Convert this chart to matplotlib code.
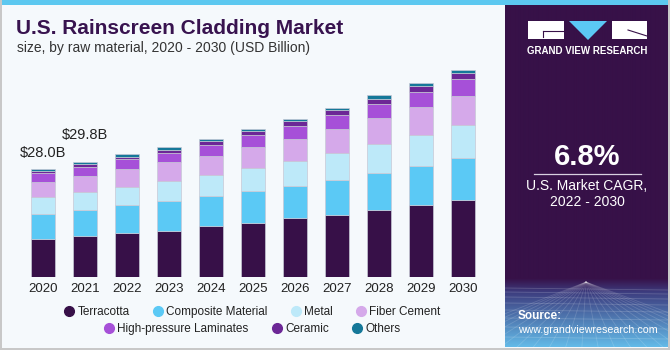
import numpy as np
import matplotlib
matplotlib.use('Agg')
import matplotlib.pyplot as plt
from matplotlib.lines import Line2D
from matplotlib.patches import Rectangle, Polygon

plt.rcParams['font.family'] = ['Liberation Sans', 'DejaVu Sans']

# data (USD Billion)
years = ['2020', '2021', '2022', '2023', '2024', '2025', '2026', '2027', '2028', '2029', '2030']
segments = ['Terracotta', 'Composite Material', 'Metal', 'Fiber Cement',
            'High-pressure Laminates', 'Ceramic', 'Others']
terracotta = [9.95, 10.65, 11.35, 12.0, 13.25, 14.0, 15.25, 16.0, 17.5, 18.7, 20.0]
composite = [6.4, 6.75, 7.35, 7.8, 7.9, 8.3, 8.4, 9.2, 9.45, 10.1, 10.8]
metal = [4.3, 4.6, 4.75, 5.1, 5.3, 5.9, 6.5, 7.0, 7.5, 8.0, 8.65]
fiber_cement = [4.0, 4.24, 4.6, 4.85, 5.1, 5.5, 5.8, 6.3, 6.75, 7.3, 7.6]
hpl = [2.25, 2.42, 2.5, 2.5, 2.8, 3.1, 3.4, 3.55, 3.8, 4.0, 4.35]
ceramic = [0.55, 0.6, 0.7, 0.75, 0.95, 1.1, 1.2, 1.3, 1.3, 1.5, 1.55]
others = [0.55, 0.54, 0.6, 0.75, 0.65, 0.65, 0.6, 0.6, 0.85, 0.7, 0.8]
series = [terracotta, composite, metal, fiber_cement, hpl, ceramic, others]
colors = ['#371048', '#5bc9f5', '#bde9f9', '#d5a9ea', '#a650d8', '#6c2796', '#157899']
value_labels = {0: '$28.0B', 1: '$29.8B'}
label_heights = {0: 32.2, 1: 36.9}

bg = '#f5f9fc'
purple = '#371148'

fig = plt.figure(figsize=(6.7, 3.5), dpi=100, facecolor=bg)

# frame / decorations in pixel coordinates
deco = fig.add_axes([0, 0, 1, 1], zorder=0)
deco.set_xlim(0, 670)
deco.set_ylim(350, 0)
deco.axis('off')
deco.add_patch(Rectangle((0, 0), 670, 5, color='#5cc8f0', lw=0))
deco.add_patch(Rectangle((0, 0), 1.5, 350, color='#c8c8c8', lw=0))
deco.add_patch(Rectangle((0, 347.5), 670, 2.5, color='#c8c8c8', lw=0))
deco.add_patch(Rectangle((667.5, 0), 2.5, 350, color='#c8c8c8', lw=0))

fig.text(16 / 670, 1 - 28.5 / 350, 'U.S. Rainscreen Cladding Market', fontsize=15,
         fontweight='heavy', color='#38134f', va='center', ha='left')
fig.text(17 / 670, 1 - 48 / 350, 'size, by raw material, 2020 - 2030 (USD Billion)',
         fontsize=10, color='#333333', va='center', ha='left')

# main chart
ax = fig.add_axes([10 / 670, 73 / 350, 485 / 670, 217 / 350], zorder=2)
ax.set_facecolor('none')
x = np.arange(len(years))
bottom = np.zeros(len(years))
for name, vals, c in zip(segments, series, colors):
    ax.bar(x, vals, width=0.58, bottom=bottom, color=c, edgecolor='#c7c9d6',
           linewidth=0.5, label=name)
    bottom += np.array(vals)
for i, txt in value_labels.items():
    ax.text(x[i], label_heights[i], txt, ha='center', va='center', fontsize=10.5,
            color='#222222')
ax.set_xlim(-0.786, 10.762)
ax.set_ylim(0, 217 / 3.85)
ax.set_xticks(x)
ax.set_xticklabels(years, fontsize=9.5, color='#222222')
ax.tick_params(axis='x', length=0, pad=4)
ax.set_yticks([])
for s in ax.spines.values():
    s.set_visible(False)

# legend in two centred rows
handles = [Line2D([], [], marker='o', linestyle='none', markersize=7,
                  markerfacecolor=c, markeredgecolor=c) for c in colors]
leg_kw = dict(frameon=False, fontsize=8.5, handletextpad=0.2, columnspacing=1.9,
              handlelength=1.0, borderpad=0, labelcolor='#222222')
fig.legend(handles[:4], segments[:4], ncol=4, loc='center',
           bbox_to_anchor=(252 / 670, 1 - 312 / 350), **leg_kw)
fig.legend(handles[4:], segments[4:], ncol=3, loc='center',
           bbox_to_anchor=(252 / 670, 1 - 329 / 350), **leg_kw)

# right panel
pan = fig.add_axes([505 / 670, 3 / 350, 162.5 / 670, 342 / 350], zorder=1)
pan.set_xlim(505, 667.5)
pan.set_ylim(347, 5)
pan.axis('off')
rows = np.arange(5, 347)
top_c = np.array(matplotlib.colors.to_rgb(purple))
mid_c = np.array(matplotlib.colors.to_rgb('#3d3e80'))
bot_c = np.array(matplotlib.colors.to_rgb('#64bce9'))
grad = np.zeros((len(rows), 1, 3))
for k, r in enumerate(rows):
    if r < 278:
        grad[k, 0] = top_c
    elif r < 292:
        t = (r - 278) / 14
        grad[k, 0] = top_c * (1 - t) + mid_c * t
    else:
        t = (r - 292) / 55
        grad[k, 0] = mid_c * (1 - t) + bot_c * t
pan.imshow(grad, extent=(505, 667.5, 347, 5), aspect='auto', interpolation='bilinear')
# faint perspective grid
for yy in [288, 292, 297, 303, 310, 318, 327, 337]:
    pan.plot([505, 667.5], [yy, yy + 2], color='white', alpha=0.18, lw=0.6)
for xx in np.linspace(420, 760, 22):
    pan.plot([586, xx], [282, 347], color='white', alpha=0.15, lw=0.6)

# logo
pan.add_patch(Rectangle((527.5, 21), 36.5, 18, color='white', lw=0))
pan.plot([543, 564], [31, 31], color=purple, lw=0.8)
pan.plot([543, 543], [31, 37], color=purple, lw=0.8)
pan.add_patch(Polygon([(569, 21), (607, 21), (588, 40)], closed=True,
                      color='#5bc8f5', lw=0))
pan.add_patch(Rectangle((611.5, 21), 35.5, 18, color='white', lw=0))
pan.plot([628, 647], [30, 36], color=purple, lw=0.8)
pan.text(587, 51.5, 'GRAND VIEW RESEARCH', color='white', fontsize=7, fontweight='bold',
         ha='center', va='center')

pan.text(587, 157, '6.8%', color='white', fontsize=21, fontweight='bold',
         ha='center', va='center')
pan.plot([534, 641], [173.5, 173.5], color='#d8d0e0', lw=0.9)
pan.text(587, 186, 'U.S. Market CAGR,', color='white', fontsize=10,
         ha='center', va='center')
pan.text(587, 202, '2022 - 2030', color='white', fontsize=10,
         ha='center', va='center')
pan.text(518, 316, 'Source:', color='white', fontsize=8.5, fontweight='bold',
         ha='left', va='center')
pan.text(518, 330, 'www.grandviewresearch.com', color='white', fontsize=7.7,
         ha='left', va='center')

fig.savefig('out.png', dpi=100, facecolor=bg)
